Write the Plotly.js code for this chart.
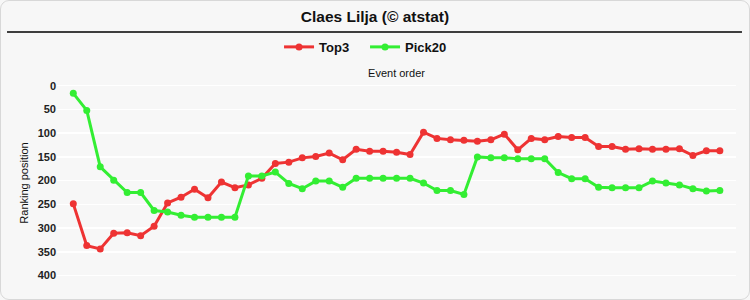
<!DOCTYPE html>
<html>
<head>
<meta charset="utf-8">
<script src="https://cdn.plot.ly/plotly-3.0.1.min.js"></script>
<style>
  html, body { margin: 0; padding: 0; background: #ffffff; }
  #wrap { position: relative; width: 750px; height: 300px; }
  #chart { position: absolute; left: 0; top: 0; width: 750px; height: 300px; }
  #frame { position: absolute; left: 0; top: 0; width: 750px; height: 300px; box-sizing: border-box;
           border: 1px solid #d8d8d8; border-radius: 9px; pointer-events: none; }
</style>
</head>
<body>
<div id="wrap">
  <div id="chart"></div>
  <div id="frame"></div>
</div>
<script>
// ---- data ----
const chartTitle = "Claes Lilja (© atstat)";
const xTitle = "Event order";
const yTitle = "Ranking position";
const seriesNames = ["Top3", "Pick20"];
const eventOrder = Array.from({length: 49}, (_, i) => i + 1);
const top3 = [249, 337, 344, 311, 310, 316, 296, 247, 235, 218,
              236, 203, 215, 209, 195, 164, 161, 152, 149, 142,
              156, 134, 138, 138, 140, 145, 98, 111, 114, 115,
              117, 114, 102, 135, 111, 114, 107, 109, 109, 128,
              128, 134, 133, 134, 134, 133, 147, 137, 137];
const pick20 = [16, 52, 171, 199, 225, 225, 263, 266, 273, 277,
                277, 277, 277, 190, 190, 182, 206, 217, 201, 201,
                214, 195, 195, 195, 195, 195, 205, 221, 221, 229,
                150, 152, 152, 154, 154, 154, 183, 196, 196, 214,
                215, 215, 215, 201, 205, 209, 217, 222, 221];
const yTicks = [0, 50, 100, 150, 200, 250, 300, 350, 400];

const red = "#ee3333";
const green = "#33ee33";

const traces = [
  {x: eventOrder, y: top3, name: seriesNames[0], type: "scatter", mode: "lines+markers",
   line: {color: red, width: 3}, marker: {color: red, size: 7}},
  {x: eventOrder, y: pick20, name: seriesNames[1], type: "scatter", mode: "lines+markers",
   line: {color: green, width: 3}, marker: {color: green, size: 7}}
];

const layout = {
  width: 750, height: 300,
  margin: {l: 57, r: 14, t: 81, b: 15, pad: 0},
  paper_bgcolor: "#f7f7f7",
  plot_bgcolor: "#f7f7f7",
  font: {family: "Liberation Sans, Arial, sans-serif", color: "#111"},
  title: {text: "<b>" + chartTitle + "</b>", font: {size: 15.5, color: "#111"},
          x: 0.5, xanchor: "center", y: 1 - 17/300, yanchor: "middle", yref: "container"},
  showlegend: true,
  legend: {orientation: "h", x: 0.327, xanchor: "left", y: 1.167, yanchor: "middle",
           font: {size: 13, color: "#111", weight: "bold"}, bgcolor: "rgba(0,0,0,0)",
           entrywidth: 41},
  xaxis: {range: [-0.21, 50.2], side: "top", showticklabels: false, ticks: "",
          showgrid: false, zeroline: false, showline: false, automargin: false,
          title: {text: xTitle, font: {size: 11, color: "#111"}, standoff: 0}},
  yaxis: {range: [420, -10], tickvals: yTicks, ticktext: yTicks.map(String),
          tickfont: {size: 11, color: "#222", weight: "bold"}, ticks: "",
          showgrid: true, gridcolor: "#ffffff", gridwidth: 1.5, zeroline: false,
          showline: false, automargin: false,
          title: {text: yTitle, font: {size: 11, color: "#111"}, standoff: 6}},
  shapes: [
    {type: "line", xref: "paper", yref: "paper", x0: -0.0736, x1: 1.0088, y0: 1.2402, y1: 1.2402,
     line: {color: "#000", width: 1.3}}
  ]
};

Plotly.newPlot("chart", traces, layout, {displayModeBar: false, staticPlot: true});
</script>
</body>
</html>
